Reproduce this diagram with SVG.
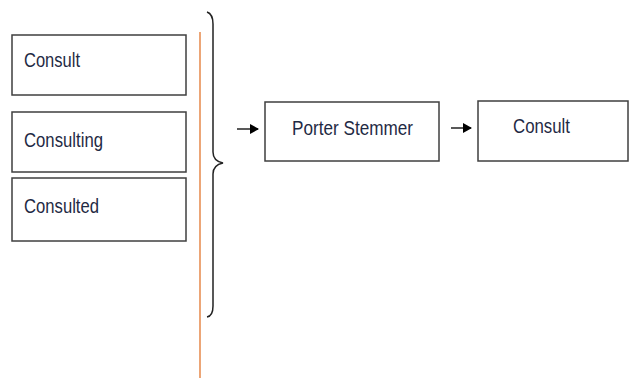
<svg xmlns="http://www.w3.org/2000/svg" width="630" height="378" viewBox="0 0 630 378">
<style>
.box{fill:#fff;stroke:#3f3f3f;stroke-width:1.5}
.t{font-family:"Liberation Sans",Arial,sans-serif;font-size:21px;fill:#1f2a44}
.conn{fill:none;stroke:#222;stroke-width:1.5}
</style>
<defs>
<marker id="ah" markerWidth="9" markerHeight="10" refX="8" refY="5" orient="auto" markerUnits="userSpaceOnUse">
<path d="M0,0 L9,5 L0,10 Z" fill="#000"/>
</marker>
</defs>
<rect width="630" height="378" fill="#fff"/>
<g id="n-consult"><rect class="box" x="12" y="35" width="174" height="60"/><text class="t" x="24" y="67" textLength="56" lengthAdjust="spacingAndGlyphs">Consult</text></g>
<g id="n-consulting"><rect class="box" x="12" y="112" width="174" height="60"/><text class="t" x="24" y="147" textLength="79" lengthAdjust="spacingAndGlyphs">Consulting</text></g>
<g id="n-consulted"><rect class="box" x="12" y="178" width="174" height="63"/><text class="t" x="24" y="213" textLength="75" lengthAdjust="spacingAndGlyphs">Consulted</text></g>
<g id="n-porter"><rect class="box" x="265" y="102" width="174" height="59"/><text class="t" x="292" y="135" textLength="121" lengthAdjust="spacingAndGlyphs">Porter Stemmer</text></g>
<g id="n-result"><rect class="box" x="478" y="101" width="150" height="60"/><text class="t" x="513" y="133" textLength="57" lengthAdjust="spacingAndGlyphs">Consult</text></g>
<g id="connectors">
<line x1="200" y1="32" x2="200" y2="378" stroke="#e06a1c" stroke-width="1.2"/>
<path class="conn" d="M207,12 Q213,14 213,24 L213,152 Q213,161 223,163 Q213,165 213,174 L213,306 Q213,316 207,317"/>
<line class="conn" x1="237" y1="129" x2="258" y2="129" marker-end="url(#ah)"/>
<line class="conn" x1="451" y1="128" x2="471" y2="128" marker-end="url(#ah)"/>
</g>
</svg>
